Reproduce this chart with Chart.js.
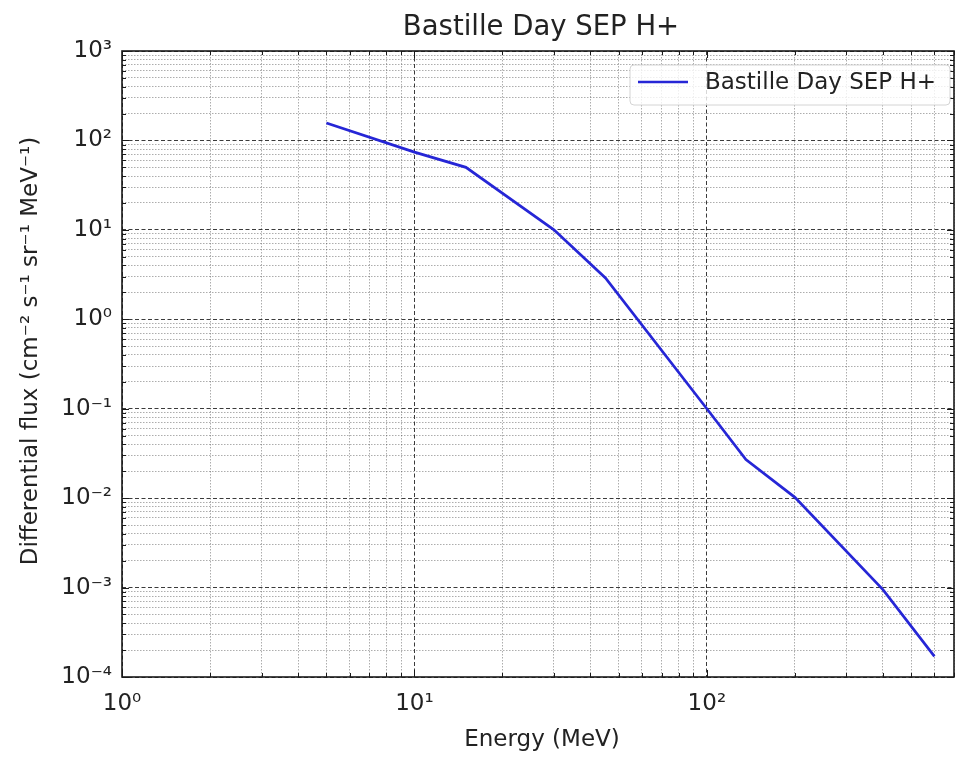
<!DOCTYPE html>
<html>
<head>
<meta charset="utf-8">
<title>Bastille Day SEP H+</title>
<script src="https://cdn.jsdelivr.net/npm/chart.js@4"></script>
<style>
  html, body { margin: 0; padding: 0; background: #fff; }
  #wrap { width: 956px; height: 757px; }
</style>
</head>
<body>
<div id="wrap"><canvas id="fluxChart" width="956" height="757"></canvas></div>
<script>
// values (energy in MeV, flux in cm^-2 s^-1 sr^-1 MeV^-1)
const energy = [5, 10, 15, 30, 45, 100, 136, 200, 400, 600];
const flux   = [157, 74, 50, 10, 2.9, 0.1, 0.027, 0.0102, 0.00095, 0.00017];

const seriesLabel = 'Bastille Day SEP H+';
const chartTitle  = 'Bastille Day SEP H+';
const xTitle      = 'Energy (MeV)';
const yTitle      = 'Differential flux (cm\u207B\u00B2 s\u207B\u00B9 sr\u207B\u00B9 MeV\u207B\u00B9)';

const xDecades    = [1, 10, 100];
const xTickLabels = ['10\u2070', '10\u00B9', '10\u00B2'];
const yDecades    = [1e-4, 1e-3, 1e-2, 1e-1, 1, 10, 100, 1000];
const yTickLabels = ['10\u207B\u2074', '10\u207B\u00B3', '10\u207B\u00B2', '10\u207B\u00B9',
                     '10\u2070', '10\u00B9', '10\u00B2', '10\u00B3'];
const minorSteps  = [2, 3, 4, 5, 6, 7, 8, 9];

const xMin = 1, xMax = 700;
const yMin = 1e-4, yMax = 1e3;

const FONT = 'DejaVu Sans';
const lineColor = '#2626d6';

function isDecade(v) {
  const l = Math.log10(v);
  return Math.abs(l - Math.round(l)) < 1e-9;
}

// all tick values (decades + 2..9 minors) inside [lo, hi]
function logTicks(decades, lo, hi) {
  const out = [];
  decades.forEach(d => {
    out.push(d);
    minorSteps.forEach(m => out.push(d * m));
  });
  return out.filter(v => v >= lo * 0.999 && v <= hi * 1.001)
            .map(v => ({ value: v, major: isDecade(v) }));
}

function labelFor(v, decades, labels) {
  const i = decades.findIndex(d => Math.abs(Math.log10(d) - Math.log10(v)) < 1e-9);
  return i >= 0 ? labels[i] : '';
}

const gridOpts = {
  drawTicks: false,
  lineWidth: 1,
  color: c => (c.tick && isDecade(c.tick.value)) ? 'rgba(25,25,25,0.85)' : 'rgba(60,60,60,0.42)'
};
const borderOpts = {
  display: false,
  dash: c => (c.tick && isDecade(c.tick.value)) ? [4, 2.5] : [1.5, 1.5]
};

// frame, inward ticks, legend and the three titles
const decorations = {
  id: 'decorations',
  afterDraw(chart) {
    const { ctx, chartArea: a, scales: { x, y } } = chart;
    ctx.save();
    ctx.strokeStyle = '#1a1a1a';
    ctx.lineWidth = 1;
    ctx.setLineDash([]);
    ctx.beginPath();
    x.ticks.forEach(t => {
      const px = Math.round(x.getPixelForValue(t.value)) + 0.5;
      const len = isDecade(t.value) ? 7 : 4;
      ctx.moveTo(px, a.bottom); ctx.lineTo(px, a.bottom - len);
      ctx.moveTo(px, a.top);    ctx.lineTo(px, a.top + len);
    });
    y.ticks.forEach(t => {
      const py = Math.round(y.getPixelForValue(t.value)) + 0.5;
      const len = isDecade(t.value) ? 7 : 4;
      ctx.moveTo(a.left, py);  ctx.lineTo(a.left + len, py);
      ctx.moveTo(a.right, py); ctx.lineTo(a.right - len, py);
    });
    ctx.stroke();

    ctx.lineWidth = 1.6;
    ctx.strokeRect(a.left, a.top, a.right - a.left, a.bottom - a.top);

    // legend box, upper right
    const ds = chart.data.datasets[0];
    const bx = 630, by = 65, bw = 320, bh = 40;
    ctx.beginPath();
    ctx.roundRect(bx, by, bw, bh, 4);
    ctx.fillStyle = 'rgba(255,255,255,0.8)';
    ctx.fill();
    ctx.strokeStyle = '#d4d4d4';
    ctx.lineWidth = 1;
    ctx.stroke();
    ctx.beginPath();
    ctx.moveTo(638, 82); ctx.lineTo(688, 82);
    ctx.strokeStyle = ds.borderColor;
    ctx.lineWidth = 2.6;
    ctx.stroke();
    ctx.fillStyle = '#222';
    ctx.font = '23px "' + FONT + '"';
    ctx.textAlign = 'left';
    ctx.textBaseline = 'middle';
    ctx.fillText(ds.label, 705, 83);

    // titles
    ctx.textAlign = 'center';
    ctx.textBaseline = 'alphabetic';
    ctx.font = '27.5px "' + FONT + '"';
    ctx.fillText(chartTitle, 541, 35);
    ctx.font = '23px "' + FONT + '"';
    ctx.fillText(xTitle, 542, 746);
    ctx.translate(37, 351);
    ctx.rotate(-Math.PI / 2);
    ctx.fillText(yTitle, 0, 0);
    ctx.restore();
  }
};

new Chart(document.getElementById('fluxChart'), {
  type: 'line',
  data: {
    datasets: [{
      label: seriesLabel,
      data: energy.map((e, i) => ({ x: e, y: flux[i] })),
      borderColor: lineColor,
      borderWidth: 2.7,
      pointRadius: 0,
      tension: 0,
      fill: false
    }]
  },
  options: {
    responsive: false,
    animation: false,
    events: [],
    layout: { padding: { top: 51, right: 2, left: 0, bottom: 0 } },
    plugins: {
      legend: { display: false },
      title: { display: false },
      tooltip: { enabled: false }
    },
    scales: {
      x: {
        type: 'logarithmic',
        min: xMin,
        max: xMax,
        afterBuildTicks: s => { s.ticks = logTicks(xDecades, xMin, xMax); },
        afterFit: s => { s.height = 80; s.paddingLeft = 0; s.paddingRight = 0; },
        ticks: {
          autoSkip: false,
          maxRotation: 0,
          padding: 13,
          color: '#222',
          font: { family: FONT, size: 23 },
          callback: v => labelFor(v, xDecades, xTickLabels)
        },
        grid: gridOpts,
        border: borderOpts
      },
      y: {
        type: 'logarithmic',
        min: yMin,
        max: yMax,
        afterBuildTicks: s => { s.ticks = logTicks(yDecades, yMin, yMax); },
        afterFit: s => { s.width = 122; s.paddingTop = 0; s.paddingBottom = 0; },
        ticks: {
          autoSkip: false,
          padding: 10,
          color: '#222',
          font: { family: FONT, size: 23 },
          callback: v => labelFor(v, yDecades, yTickLabels)
        },
        grid: gridOpts,
        border: borderOpts
      }
    }
  },
  plugins: [decorations]
});
</script>
</body>
</html>
